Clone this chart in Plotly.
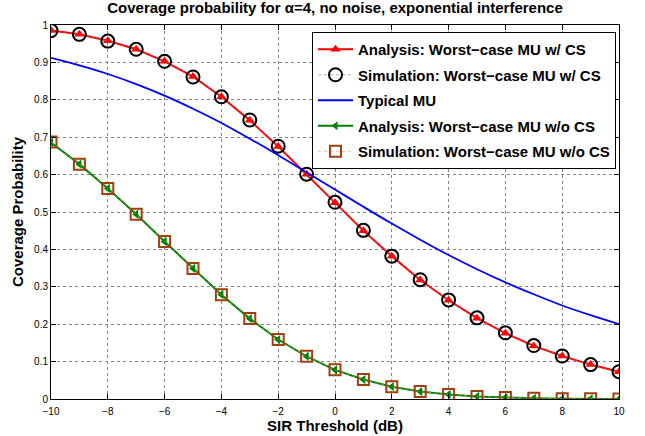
import plotly.graph_objects as go

sir_db = list(range(-10, 11))
ana_cs = [0.985, 0.975, 0.958, 0.935, 0.903, 0.862, 0.808, 0.745, 0.675, 0.601, 0.525,
          0.450, 0.382, 0.318, 0.264, 0.216, 0.176, 0.142, 0.115, 0.092, 0.073]
sim_cs = [0.985, 0.975, 0.957, 0.935, 0.903, 0.861, 0.808, 0.746, 0.676, 0.601, 0.526,
          0.451, 0.382, 0.319, 0.265, 0.217, 0.177, 0.143, 0.115, 0.092, 0.073]
typical = [0.912, 0.892, 0.869, 0.842, 0.811, 0.776, 0.738, 0.696, 0.652, 0.606, 0.560,
           0.514, 0.469, 0.426, 0.385, 0.347, 0.312, 0.280, 0.250, 0.224, 0.200]
ana_nocs = [0.686, 0.628, 0.563, 0.494, 0.421, 0.349, 0.279, 0.215, 0.159, 0.114, 0.078,
            0.052, 0.033, 0.020, 0.012, 0.007, 0.004, 0.002, 0.001, 0.0006, 0.0003]
sim_nocs = [0.687, 0.628, 0.563, 0.494, 0.421, 0.349, 0.279, 0.215, 0.159, 0.114, 0.078,
            0.052, 0.033, 0.020, 0.012, 0.007, 0.004, 0.002, 0.001, 0.0006, 0.0003]
x_ticks = [-10, -8, -6, -4, -2, 0, 2, 4, 6, 8, 10]
y_ticks = [0, 0.1, 0.2, 0.3, 0.4, 0.5, 0.6, 0.7, 0.8, 0.9, 1]

FONT = "Liberation Sans, Arial, sans-serif"
L, R, T, B = 51, 619, 25, 399
W, H = 645, 436

fig = go.Figure()
fig.add_trace(go.Scatter(x=sir_db, y=ana_cs, mode="lines+markers", name="<b>Analysis: Worst−case MU w/ CS</b>",
                         line=dict(color="red", width=2),
                         marker=dict(symbol="triangle-up", size=9, color="red"), legendgroup="a"))
fig.add_trace(go.Scatter(x=sir_db, y=sim_cs, mode="lines+markers", name="<b>Simulation: Worst−case MU w/ CS</b>",
                         line=dict(color="rgba(120,120,120,0.6)", width=1, dash="dot"),
                         marker=dict(symbol="circle-open", size=13, color="black", line=dict(width=2)), legendgroup="b"))
fig.add_trace(go.Scatter(x=sir_db, y=typical, mode="lines", name="<b>Typical MU</b>",
                         line=dict(color="blue", width=1.8, shape="spline"), legendgroup="c"))
fig.add_trace(go.Scatter(x=sir_db, y=ana_nocs, mode="lines+markers", name="<b>Analysis: Worst−case MU w/o CS</b>",
                         line=dict(color="green", width=2),
                         marker=dict(symbol="triangle-left", size=8, color="green"), legendgroup="d"))
fig.add_trace(go.Scatter(x=sir_db, y=sim_nocs, mode="lines+markers", name="<b>Simulation: Worst−case MU w/o CS</b>",
                         line=dict(color="rgba(220,150,120,0.6)", width=1, dash="dot"),
                         marker=dict(symbol="square-open", size=11, color="#A0400F", line=dict(width=2)), legendgroup="e"))

axis_common = dict(showline=True, linecolor="black", linewidth=1, mirror="ticks", ticks="inside",
                   ticklen=5, tickcolor="black", showgrid=True, gridcolor="#888888", griddash="dot",
                   gridwidth=1, zeroline=False, automargin=False,
                   tickfont=dict(size=10, color="black", family=FONT))
fig.update_xaxes(range=[-10, 10], tickvals=x_ticks, ticklabelstandoff=3,
                 title=dict(text="<b>SIR Threshold (dB)</b>",
                            font=dict(size=15, color="black", family=FONT), standoff=1), **axis_common)
fig.update_yaxes(range=[0, 1], tickvals=y_ticks, ticktext=[f"{v:g}" for v in y_ticks],
                 title=dict(text="<b>Coverage Probability</b>", font=dict(size=15, color="black", family=FONT), standoff=6),
                 **axis_common)

fig.update_layout(
    width=W, height=H,
    margin=dict(l=L, r=W - R, t=T, b=H - B, autoexpand=False),
    plot_bgcolor="white", paper_bgcolor="white",
    title=dict(text="<b>Coverage probability for α=4, no noise, exponential interference</b>",
               x=(L + R) / 2 / W, xanchor="center", y=1 - 2 / H, yanchor="top",
               font=dict(size=15, color="black", family=FONT)),
    legend=dict(x=(312 - L) / (R - L), y=(B - 32) / (B - T), xanchor="left", yanchor="top", bgcolor="white",
                bordercolor="black", borderwidth=1, font=dict(size=15, color="black", family=FONT),
                tracegroupgap=3, itemwidth=35, traceorder="grouped"),
    showlegend=True,
)
fig.write_html("out.html", config={"displayModeBar": False},
               post_script="document.body.style.margin='0';document.body.style.overflow='hidden';")
